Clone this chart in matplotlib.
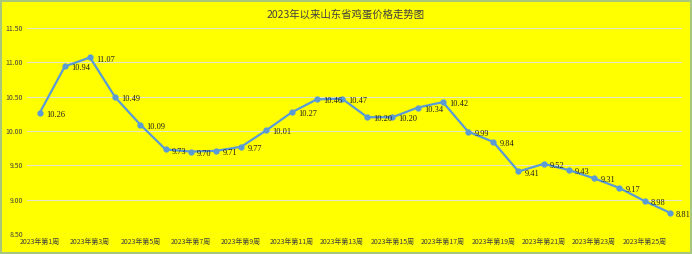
import matplotlib
matplotlib.use("Agg")
import matplotlib.pyplot as plt
import numpy as np

plt.rcParams['font.family'] = ['Noto Sans CJK SC', 'DejaVu Sans']

# weekly egg price in Shandong, 2023 week 1..26
weeks = [f"2023年第{i}周" for i in range(1, 27)]
prices = [10.26, 10.94, 11.07, 10.49, 10.09, 9.73, 9.70, 9.71, 9.77, 10.01,
          10.27, 10.46, 10.47, 10.20, 10.20, 10.34, 10.42, 9.99, 9.84, 9.41,
          9.52, 9.43, 9.31, 9.17, 8.98, 8.81]
yticks = [8.50, 9.00, 9.50, 10.00, 10.50, 11.00, 11.50]
title = "2023年以来山东省鸡蛋价格走势图"

fig = plt.figure(figsize=(6.92, 2.54), dpi=100)
fig.patch.set_facecolor("#ffff00")
ax = fig.add_axes([0.039, 0.079, 0.947, 0.811])
ax.set_facecolor("#ffff00")

x = np.arange(len(prices))
ax.plot(x, prices, color="#5b9bd5", linewidth=1.6, marker="o", markersize=3.5, zorder=3)

# data labels to the right of each point
for xi, yi in zip(x, prices):
    ax.annotate(f"{yi:.2f}", (xi, yi), xytext=(4.5, -1.5), textcoords="offset points",
                fontsize=6, color="#202020", family="Liberation Serif", va="center")

ax.set_xlim(-0.5, len(prices) - 0.5)
ax.set_ylim(8.5, 11.5)
ax.set_yticks(yticks)
ax.set_yticklabels([f"{v:.2f}" for v in yticks], fontsize=5, color="#404040")
ax.set_xticks(x[::2])
ax.set_xticklabels(weeks[::2], fontsize=5, color="#404040")
ax.tick_params(length=0, pad=3)
ax.grid(axis="y", color="#e8e8c8", linewidth=0.8)
ax.set_axisbelow(True)
for s in ax.spines.values():
    s.set_visible(False)

fig.text(0.5, 0.945, title, ha="center", va="center", fontsize=7.5, color="#404040")

# light green frame around the chart
fig.patches.append(plt.Rectangle((0.002, 0.004), 0.996, 0.992, transform=fig.transFigure,
                                 fill=False, edgecolor="#a9c77a", linewidth=1.5))

fig.savefig("out.png", dpi=100, facecolor=fig.get_facecolor())
